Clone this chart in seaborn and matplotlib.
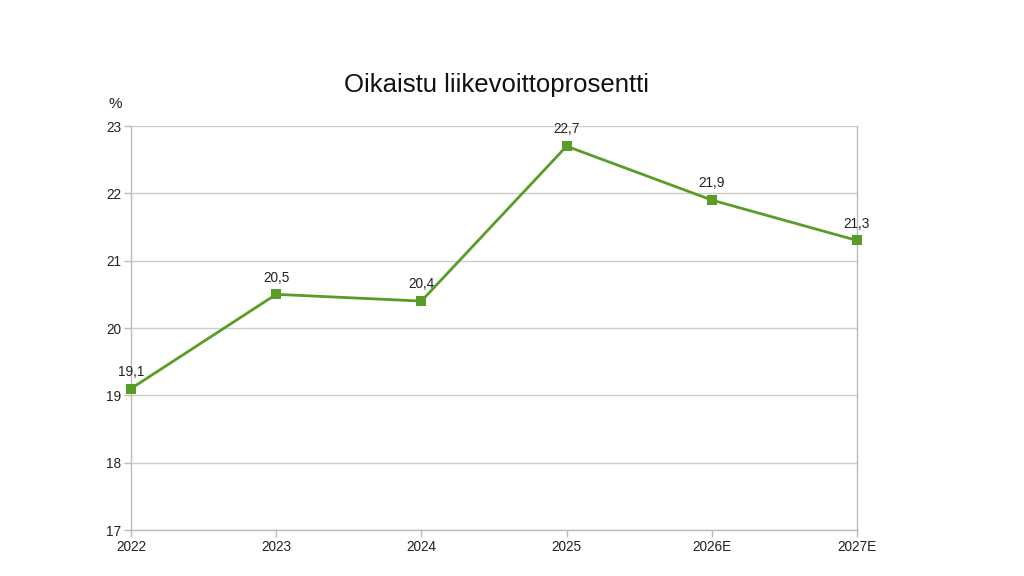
import matplotlib
matplotlib.use("Agg")
import matplotlib.pyplot as plt
import seaborn as sns
import pandas as pd

years = ["2022", "2023", "2024", "2025", "2026E", "2027E"]
values = [19.1, 20.5, 20.4, 22.7, 21.9, 21.3]
labels = ["19,1", "20,5", "20,4", "22,7", "21,9", "21,3"]
yticks = [17, 18, 19, 20, 21, 22, 23]

sns.set_theme(style="white")
plt.rcParams['font.family'] = ['Liberation Sans', 'DejaVu Sans']

green = "#599c27"
df = pd.DataFrame({"year": years, "value": values, "pos": range(len(years))})

fig = plt.figure(figsize=(10.24, 5.76), dpi=100)
ax = fig.add_axes([131/1024, 46/576, (857-131)/1024, (530-126)/576])
sns.lineplot(data=df, x="pos", y="value", ax=ax, color=green, linewidth=2.0,
             marker="s", markersize=7.5, markeredgewidth=0, sort=False)
for ln in ax.lines:
    ln.set_clip_on(False)
    ln.set_zorder(5)

ax.set_xlim(0, len(years) - 1)
ax.set_ylim(17, 23)
ax.set_xticks(range(len(years)))
ax.set_xticklabels(years)
ax.set_yticks(yticks)
ax.set_yticklabels([str(t) for t in yticks])
ax.set_xlabel("")
ax.set_ylabel("")
ax.grid(axis="y", color="#cccccc", linewidth=1)
ax.grid(axis="x", visible=False)
for s in ["left", "right", "bottom"]:
    ax.spines[s].set_visible(True)
    ax.spines[s].set_color("#bbbbbb")
    ax.spines[s].set_linewidth(1)
ax.spines["top"].set_visible(False)
ax.tick_params(axis="both", direction="out", length=5, width=1, color="#bbbbbb",
               labelsize=9.8, labelcolor="#222222", pad=2, left=True, bottom=True)

for i, (v, lab) in enumerate(zip(values, labels)):
    ax.annotate(lab, (i, v), xytext=(0, 7), textcoords="offset points",
                ha="center", va="bottom", fontsize=9.8, color="#222222",
                annotation_clip=False)

fig.text(497/1024, 1 - 85/576, "Oikaistu liikevoittoprosentti", ha="center", va="center",
         fontsize=18.5, color="#111111")
fig.text(115/1024, 1 - 104/576, "%", ha="center", va="center", fontsize=11, color="#222222")

fig.savefig("out.png", dpi=100)
